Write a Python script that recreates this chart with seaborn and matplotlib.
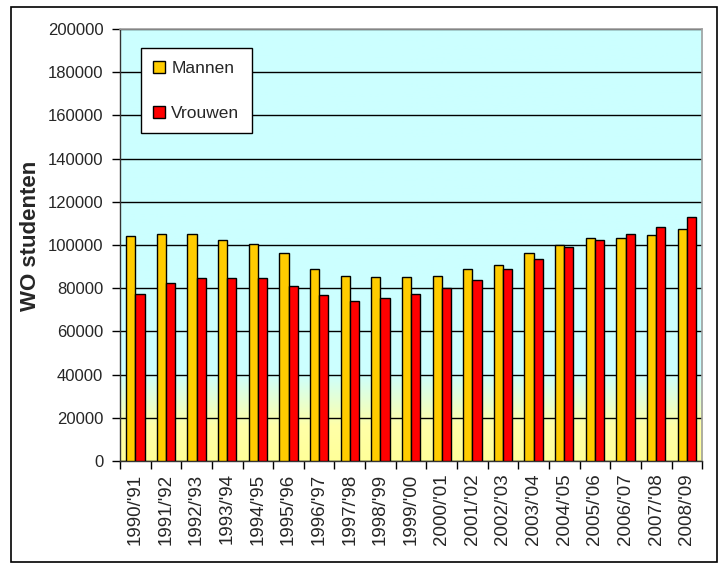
import numpy as np
import pandas as pd
import matplotlib
matplotlib.use("Agg")
import matplotlib.pyplot as plt
from matplotlib.colors import LinearSegmentedColormap
from matplotlib.patches import Rectangle
import seaborn as sns

jaren = ["1990/'91", "1991/'92", "1992/'93", "1993/'94", "1994/'95", "1995/'96",
         "1996/'97", "1997/'98", "1998/'99", "1999/'00", "2000/'01", "2001/'02",
         "2002/'03", "2003/'04", "2004/'05", "2005/'06", "2006/'07", "2007/'08",
         "2008/'09"]
mannen = [104300, 105100, 105100, 102500, 100600, 96100, 89000, 85700, 85100, 85100,
          85700, 89000, 90800, 96100, 99800, 103100, 103100, 104500, 107600]
vrouwen = [77300, 82500, 84500, 84500, 84500, 81200, 76700, 74100, 75600, 77200,
           79900, 83900, 89000, 93500, 99200, 102500, 105100, 108400, 112800]

df = pd.DataFrame({"jaar": jaren * 2,
                   "aantal": mannen + vrouwen,
                   "geslacht": ["Mannen"] * len(jaren) + ["Vrouwen"] * len(jaren)})

sns.set_style("white")
plt.rcParams['font.family'] = ['Liberation Sans', 'DejaVu Sans']

fig = plt.figure(figsize=(7.25, 5.68), dpi=100)
ax = fig.add_axes([0.1655, 0.1884, 0.803, 0.7606])

# achtergrond: cyaan boven, verloop naar lichtgeel onderaan
cmap = LinearSegmentedColormap.from_list("bg", [(0.0, "#FFFF99"), (0.08, "#FFFFA8"),
                                                (0.2, "#CCFFFF"), (1.0, "#CCFFFF")])
grad = np.linspace(0, 1, 256).reshape(-1, 1)
ax.imshow(grad, cmap=cmap, aspect="auto", origin="lower",
          extent=[0, 1, 0, 1], transform=ax.transAxes, zorder=0)

sns.barplot(data=df, x="jaar", y="aantal", hue="geslacht",
            palette=["#FFCC00", "#FF0000"], width=0.6, gap=0,
            edgecolor="black", linewidth=1.0, saturation=1, ax=ax, zorder=3)

ax.set_xlim(-0.5, len(jaren) - 0.5)
ax.set_ylim(0, 200000)
ax.set_yticks(np.arange(0, 200001, 20000))
ax.set_yticklabels([str(v) for v in range(0, 200001, 20000)], fontsize=12)
ax.yaxis.grid(True, color="black", linewidth=1.0, zorder=1)
ax.set_axisbelow(True)

# tick marks tussen categorieen, labels in het midden
ax.set_xticks(np.arange(-0.5, len(jaren), 1.0))
ax.set_xticklabels([])
ax.set_xticks(np.arange(len(jaren)), minor=True)
ax.set_xticklabels(jaren, minor=True, rotation=90, fontsize=13.5)
ax.tick_params(axis="x", which="major", bottom=True, length=6, width=1, color="black")
ax.tick_params(axis="x", which="minor", bottom=False, length=0, pad=9)
ax.tick_params(axis="y", left=True, length=6, width=1, color="black", pad=6)

ax.set_xlabel("")
ax.set_ylabel("WO studenten", fontsize=16, fontweight="bold")
ax.yaxis.set_label_coords(-0.135, 0.52)

for s in ["left", "bottom"]:
    ax.spines[s].set_color("#333333")
    ax.spines[s].set_linewidth(1.0)
for s in ["top", "right"]:
    ax.spines[s].set_color("#A0A0A0")
    ax.spines[s].set_linewidth(1.2)

leg = ax.legend(loc="upper left", bbox_to_anchor=(0.036, 0.955), fontsize=12.5,
                frameon=True, fancybox=False, edgecolor="black", framealpha=1,
                handlelength=0.7, handleheight=0.7, handletextpad=0.35,
                labelspacing=1.75, borderpad=0.7, borderaxespad=0)
leg.get_frame().set_linewidth(1.0)
leg.set_zorder(10)

# buitenkader
fig.patches.append(Rectangle((0.0152, 0.0106), 0.974, 0.977, transform=fig.transFigure,
                             fill=False, edgecolor="black", linewidth=1.2))

fig.savefig("out.png", dpi=100)
